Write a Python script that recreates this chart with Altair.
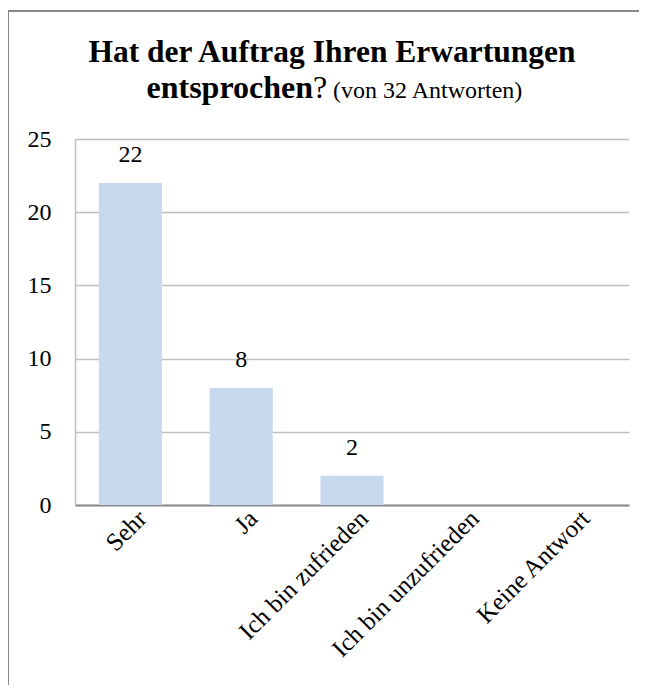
import altair as alt
import pandas as pd

categories = ["Sehr", "Ja", "Ich bin zufrieden", "Ich bin unzufrieden", "Keine Antwort"]
counts = [22, 8, 2, 0, 0]
y_ticks = [0, 5, 10, 15, 20, 25]
title_line1 = "Hat der Auftrag Ihren Erwartungen"
title_bold2 = "entsprochen"
title_q = "?"
title_note = "(von 32 Antworten)"

df = pd.DataFrame({"cat": categories, "n": counts})
one = pd.DataFrame({"k": [0]})

FONT = "Liberation Serif"

y_scale = alt.Scale(domain=[0, 25], nice=False, zero=True, padding=0)

x_enc = alt.X(
    "cat:N", sort=categories, title=None,
    scale=alt.Scale(paddingInner=0.43, paddingOuter=0.215),
    axis=alt.Axis(labelAngle=-45, labelAlign="right", labelBaseline="middle",
                  labelFont=FONT, labelFontSize=25, labelColor="black",
                  labelPadding=9, labelOffset=12, ticks=False,
                  domainColor="#8c8c8c", domainWidth=2, grid=False,
                  labelLimit=400),
)
y_enc = alt.Y(
    "n:Q", title=None, scale=y_scale,
    axis=alt.Axis(values=y_ticks, labelFont=FONT, labelFontSize=24,
                  labelColor="black", labelPadding=24, ticks=False,
                  domainColor="#bfbfbf", domainWidth=1.5,
                  gridColor="#bfbfbf", gridWidth=1.5),
)

bars = alt.Chart(df).mark_bar(color="#c8d9ef").encode(x=x_enc, y=y_enc)

labels = alt.Chart(df).transform_filter("datum.n > 0").mark_text(
    font=FONT, fontSize=24, baseline="bottom", dy=-16, color="black"
).encode(x=alt.X("cat:N", sort=categories),
         y=alt.Y("n:Q", scale=y_scale), text="n:Q")

t1 = alt.Chart(one).mark_text(
    font=FONT, fontSize=31.5, fontWeight="bold", align="center",
    baseline="alphabetic", color="black"
).encode(x=alt.value(257), y=alt.value(-77), text=alt.value(title_line1))

t2 = alt.Chart(one).mark_text(
    font=FONT, fontSize=32, fontWeight="bold", align="right",
    baseline="alphabetic", color="black"
).encode(x=alt.value(238), y=alt.value(-41), text=alt.value(title_bold2))

t3 = alt.Chart(one).mark_text(
    font=FONT, fontSize=32, align="left",
    baseline="alphabetic", color="black"
).encode(x=alt.value(238), y=alt.value(-41), text=alt.value(title_q))

t4 = alt.Chart(one).mark_text(
    font=FONT, fontSize=24, align="left",
    baseline="alphabetic", color="black"
).encode(x=alt.value(258), y=alt.value(-41), text=alt.value(title_note))

border_top = alt.Chart(one).mark_rule(color="#888888", strokeWidth=2).encode(
    x=alt.value(-67), x2=alt.value(564), y=alt.value(-128))
border_left = alt.Chart(one).mark_rule(color="#888888", strokeWidth=2).encode(
    x=alt.value(-67), y=alt.value(-129), y2=alt.value(546))

chart = alt.layer(border_top, border_left, bars, labels, t1, t2, t3, t4).properties(
    width=554, height=366,
    autosize=alt.AutoSizeParams(type="none"),
    padding={"left": 67, "top": 131, "right": 10, "bottom": 180},
    background="white",
).configure_view(stroke=None)

chart.save("out.html", embed_options={"renderer": "svg", "actions": False})
